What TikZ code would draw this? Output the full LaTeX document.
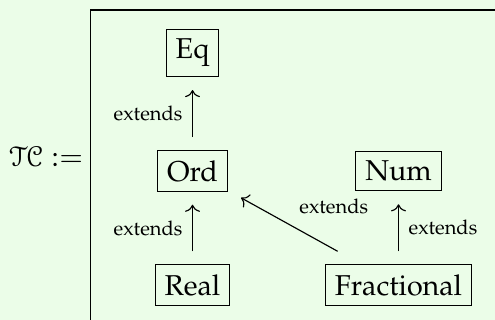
\documentclass[tikz,border=0pt]{standalone}
\usepackage[T1]{fontenc}
\usepackage{mathpazo}
\usepackage[mathcal]{eucal}
\usetikzlibrary{cd}
\definecolor{bggreen}{RGB}{235,253,232}
\tikzset{
    cls/.style={draw, outer sep=4.7pt},
    ext/.style={-{cm to}, font=\scriptsize},
}
\begin{document}
\begin{tikzpicture}
    % Background, fixes the size too
    \fill[bggreen] (0,0) rectangle (6.063,-3.919);
    \useasboundingbox (0,0) rectangle (6.063,-3.919);

    % Place the TC text
    \node (tc) at (0.565,-1.923) {$\mathcal{TC} :=$};

    % Draw the frame
    \draw (1.108,-4.2) -- (1.108,-0.122) -- (6.4,-0.122);

    % Add the classes
    \node[cls] (eq) at (2.358,-0.649) {Eq};
    \node[cls] (ord) at (2.358,-2.094) {Ord};
    \node[cls] (real) at (2.358,-3.491) {Real};
    \node[cls] (num) at (4.881,-2.094) {Num};
    \node[cls] (frac) at (4.881,-3.491) {Fractional};

    % Draw the extends arrows
    \draw[ext] (ord) -- node[auto] {extends} (eq);
    \draw[ext] (real) -- node[auto] {extends} (ord);
    \draw[ext] (frac) -- node[auto, swap] {extends} (num);
    \draw[ext] (frac) -- node[auto, swap] {extends} (ord);
\end{tikzpicture}
\end{document}
